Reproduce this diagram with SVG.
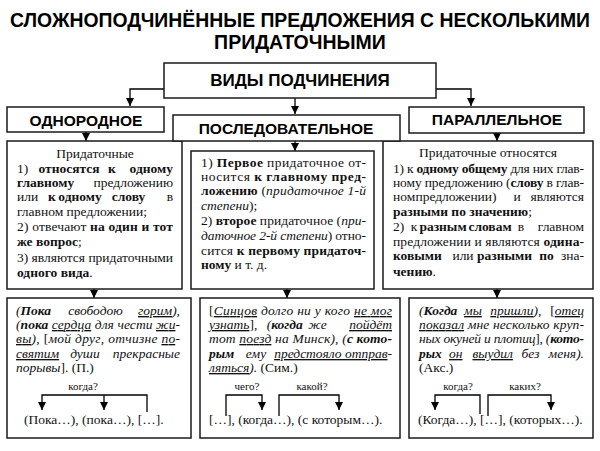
<svg xmlns="http://www.w3.org/2000/svg" width="600" height="451" viewBox="0 0 600 451">
<defs>
<style>
.h{font-family:"Liberation Sans",Arial,sans-serif;font-weight:bold;fill:#000}
.t{font-family:"Liberation Serif","Times New Roman",serif;font-size:13.5px;fill:#111}
.s{font-family:"Liberation Serif","Times New Roman",serif;font-size:11px;fill:#111;text-anchor:middle}
.b{font-weight:bold}
.i{font-style:italic}
.n{font-style:normal;font-weight:normal}
.m{text-anchor:middle}
.e{text-anchor:end}
.u1{text-decoration:underline}
.u2{text-decoration:underline;text-decoration-style:double}
.box{fill:#fff;stroke:#1a1a1a;stroke-width:1.5}
.c{fill:none;stroke:#000;stroke-width:1.3}
</style>
<marker id="ah" viewBox="0 0 8 8" refX="8" refY="4" markerWidth="8" markerHeight="8" markerUnits="userSpaceOnUse" orient="auto"><path d="M0,0 L8,4 L0,8 z" fill="#000"/></marker>
</defs>
<rect width="600" height="451" fill="#fff"/>
<g id="title">
<text class="h" x="300" y="27" font-size="19.5" text-anchor="middle" textLength="580" lengthAdjust="spacingAndGlyphs">СЛОЖНОПОДЧИНЁННЫЕ ПРЕДЛОЖЕНИЯ С НЕСКОЛЬКИМИ</text>
<text class="h" x="300" y="49" font-size="19.5" text-anchor="middle">ПРИДАТОЧНЫМИ</text>
</g>
<g id="connectors">
<path class="c" d="M164,89 H130 V106" marker-end="url(#ah)"/>
<path class="c" d="M295,98 V114" marker-end="url(#ah)"/>
<path class="c" d="M436,89 H471 V106" marker-end="url(#ah)"/>
<path class="c" d="M86,132 V141" marker-end="url(#ah)"/>
<path class="c" d="M295,141 V151" marker-end="url(#ah)"/>
<path class="c" d="M497,133 V141" marker-end="url(#ah)"/>
<path class="c" d="M94,289 V298" marker-end="url(#ah)"/>
<path class="c" d="M287,289 V298" marker-end="url(#ah)"/>
<path class="c" d="M497,289 V298" marker-end="url(#ah)"/>
</g>
<g id="vidy">
<rect class="box" x="164" y="63" width="272" height="35"/>
<text class="h" x="300" y="86" font-size="17" text-anchor="middle">ВИДЫ ПОДЧИНЕНИЯ</text>
</g>
<g id="odnorodnoe">
<rect class="box" x="7" y="107" width="157" height="25"/>
<text class="h" x="86" y="126" font-size="15.5" text-anchor="middle">ОДНОРОДНОЕ</text>
</g>
<g id="parallelnoe">
<rect class="box" x="409" y="107" width="175" height="26"/>
<text class="h" x="497" y="125" font-size="15.5" text-anchor="middle">ПАРАЛЛЕЛЬНОЕ</text>
</g>
<g id="odnorodnoe-desc">
<rect class="box" x="7" y="141" width="175" height="148"/>
<text class="t" x="95" y="158" text-anchor="middle">Придаточные</text>
<text class="t" y="173"><tspan x="17">1)</tspan><tspan x="69" class="b m">относятся</tspan><tspan x="112" class="b m">к</tspan><tspan x="173" class="b e">одному</tspan></text>
<text class="t" y="187"><tspan x="17" class="b">главному</tspan><tspan x="173" class="e">предложению</tspan></text>
<text class="t" y="201"><tspan x="17">или</tspan><tspan x="52" class="b m">к</tspan><tspan x="80" class="b m">одному</tspan><tspan x="128.5" class="b m">слову</tspan><tspan x="173" class="e">в</tspan></text>
<text class="t" x="17" y="216">главном предложении;</text>
<text class="t" x="17" y="231" textLength="156" lengthAdjust="spacing">2) отвечают <tspan class="b">на один и тот</tspan></text>
<text class="t" x="17" y="246"><tspan class="b">же вопрос</tspan>;</text>
<text class="t" x="17" y="262" textLength="156" lengthAdjust="spacing">3) являются придаточными</text>
<text class="t" x="17" y="277"><tspan class="b">одного вида</tspan>.</text>
</g>
<g id="parallelnoe-desc">
<rect class="box" x="383" y="141" width="210" height="148"/>
<text class="t" x="488" y="157" text-anchor="middle">Придаточные относятся</text>
<text class="t" x="393" y="173" textLength="191" lengthAdjust="spacing">1) к <tspan class="b">одному общему</tspan> для них глав-</text>
<text class="t" x="393" y="187" textLength="191" lengthAdjust="spacing">ному предложению (<tspan class="b">слову</tspan> в глав-</text>
<text class="t" y="201"><tspan x="393">ном</tspan><tspan x="456" class="m">предложении)</tspan><tspan x="517" class="m">и</tspan><tspan x="584" class="e">являются</tspan></text>
<text class="t" x="393" y="216"><tspan class="b">разными по значению</tspan>;</text>
<text class="t" y="231"><tspan x="393">2)</tspan><tspan x="414" class="m">к</tspan><tspan x="443" class="b m">разным</tspan><tspan x="490" class="b m">словам</tspan><tspan x="521" class="m">в</tspan><tspan x="584" class="e">главном</tspan></text>
<text class="t" x="393" y="246" textLength="191" lengthAdjust="spacing">предложении и являются <tspan class="b">одина-</tspan></text>
<text class="t" y="260"><tspan x="393" class="b">ковыми</tspan><tspan x="463" class="m">или</tspan><tspan x="504.5" class="b m">разными</tspan><tspan x="546.5" class="b m">по</tspan><tspan x="584" class="e">зна-</tspan></text>
<text class="t" x="393" y="276"><tspan class="b">чению</tspan>.</text>
</g>
<g id="posledovatelnoe">
<rect class="box" x="173" y="115" width="227" height="26"/>
<text class="h" x="286" y="134" font-size="15.5" text-anchor="middle">ПОСЛЕДОВАТЕЛЬНОЕ</text>
</g>
<g id="posledovatelnoe-desc">
<rect class="box" x="191" y="151" width="183" height="138"/>
<text class="t" x="201" y="167" textLength="165" lengthAdjust="spacing">1) <tspan class="b">Первое</tspan> придаточное от-</text>
<text class="t" x="201" y="181" textLength="165" lengthAdjust="spacing">носится <tspan class="b">к главному пред-</tspan></text>
<text class="t" x="201" y="195" textLength="165" lengthAdjust="spacing"><tspan class="b">ложению</tspan> (<tspan class="i">придаточное 1-й</tspan></text>
<text class="t" x="201" y="210"><tspan class="i">степени</tspan>);</text>
<text class="t" x="201" y="225" textLength="165" lengthAdjust="spacing">2) <tspan class="b">второе</tspan> придаточное (<tspan class="i">при-</tspan></text>
<text class="t" x="201" y="240" textLength="165" lengthAdjust="spacing"><tspan class="i">даточное 2-й степени</tspan>) отно-</text>
<text class="t" x="201" y="255" textLength="165" lengthAdjust="spacing">сится <tspan class="b">к первому придаточ-</tspan></text>
<text class="t" x="201" y="269"><tspan class="b">ному</tspan> и т. д.</text>
</g>
<g id="example-odnorodnoe">
<rect class="box" x="7" y="298" width="184" height="140"/>
<text class="t i" y="315"><tspan x="16">(</tspan><tspan class="b">Пока</tspan><tspan x="95.5" class="m">свободою</tspan><tspan x="180" class="e u2">горим</tspan><tspan>),</tspan></text>
<text class="t i" x="16" y="329" textLength="164" lengthAdjust="spacing">(<tspan class="b">пока</tspan> <tspan class="u1">сердца</tspan> для чести <tspan class="u2">жи</tspan>-</text>
<text class="t i" x="16" y="343" textLength="164" lengthAdjust="spacing"><tspan class="u2">вы</tspan>), <tspan class="n">[</tspan>мой друг, отчизне <tspan class="u2">по</tspan>-</text>
<text class="t i" y="358"><tspan x="16" class="u2">святим</tspan><tspan x="85" class="m">души</tspan><tspan x="180" class="e">прекрасные</tspan></text>
<text class="t i" x="16" y="372">порывы<tspan class="n">]. (П.)</tspan></text>
<text class="s" x="83" y="390">когда?</text>
<path class="c" d="M147,412 V395 H42 V410" marker-end="url(#ah)"/>
<path class="c" d="M104,395 V410" marker-end="url(#ah)"/>
<text class="t" x="24" y="424">(Пока…), (пока…), […].</text>
</g>
<g id="example-posledovatelnoe">
<rect class="box" x="200" y="298" width="200" height="140"/>
<text class="t i" x="209" y="315" textLength="183" lengthAdjust="spacing"><tspan class="n">[</tspan><tspan class="u1">Синцов</tspan> долго ни у кого <tspan class="u2">не мог</tspan></text>
<text class="t i" y="329"><tspan x="209" class="u2">узнать</tspan><tspan class="n">],</tspan><tspan x="284.7" class="m">(</tspan><tspan class="b">когда</tspan><tspan x="317.5" class="m">же</tspan><tspan x="392" class="e u2">пойдёт</tspan></text>
<text class="t i" x="209" y="343" textLength="183" lengthAdjust="spacing">тот <tspan class="u1">поезд</tspan> на Минск), (<tspan class="b">с кото-</tspan></text>
<text class="t i" y="358"><tspan x="209" class="b">рым</tspan><tspan x="256" class="m">ему</tspan><tspan x="392" class="e u2">предстояло отправ</tspan><tspan>-</tspan></text>
<text class="t i" x="209" y="372"><tspan class="u2">ляться</tspan>).<tspan class="n"> (Сим.)</tspan></text>
<text class="s" x="247" y="390">чего?</text>
<text class="s" x="312" y="390">какой?</text>
<path class="c" d="M226,416 V395 H262 V410" marker-end="url(#ah)"/>
<path class="c" d="M279,416 V395 H339 V410" marker-end="url(#ah)"/>
<text class="t" x="209" y="424">[…], (когда…), (с которым…).</text>
</g>
<g id="example-parallelnoe">
<rect class="box" x="409" y="298" width="184" height="140"/>
<text class="t i" y="315"><tspan x="419">(</tspan><tspan class="b">Когда</tspan><tspan x="473" class="m u1">мы</tspan><tspan x="515.8" class="m u2">пришли</tspan><tspan>),</tspan><tspan x="584" class="e n">[</tspan><tspan class="u1">отец</tspan></text>
<text class="t i" x="419" y="329" textLength="165" lengthAdjust="spacing"><tspan class="u2">показал</tspan> мне несколько круп-</text>
<text class="t i" x="419" y="343" textLength="165" lengthAdjust="spacing">ных окуней и плотиц<tspan class="n">],</tspan> (<tspan class="b">кото-</tspan></text>
<text class="t i" y="358"><tspan x="419" class="b">рых</tspan><tspan x="455.8" class="m u1">он</tspan><tspan x="492.7" class="m u2">выудил</tspan><tspan x="530.5" class="m">без</tspan><tspan x="584" class="e">меня).</tspan></text>
<text class="t" x="419" y="372">(Акс.)</text>
<text class="s" x="458" y="390">когда?</text>
<text class="s" x="525" y="390">каких?</text>
<path class="c" d="M480,414 V395 H435 V410" marker-end="url(#ah)"/>
<path class="c" d="M488,416 V395 H551 V410" marker-end="url(#ah)"/>
<text class="t" x="418" y="424">(Когда…), […], (которых…).</text>
</g>
</svg>
